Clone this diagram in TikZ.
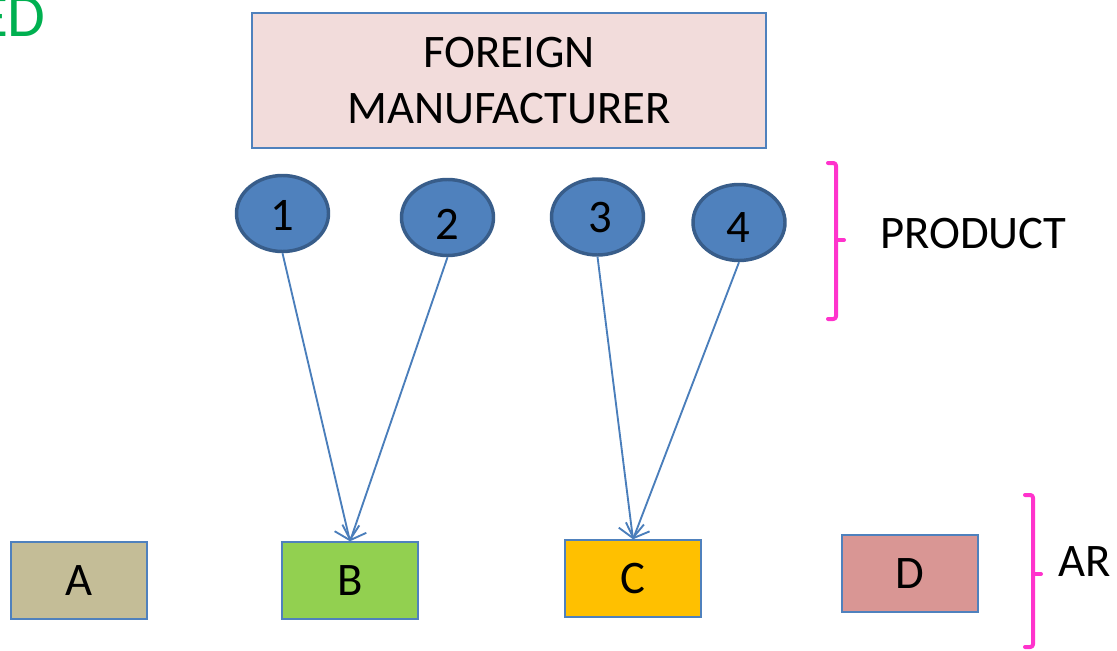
\documentclass[tikz,border=0pt]{standalone}
\usepackage{fontspec}
\setmainfont{Carlito}
\usetikzlibrary{shapes.geometric,arrows.meta}
\definecolor{boxblue}{HTML}{4F81BD}
\definecolor{ellborder}{HTML}{385D8A}
\definecolor{arrowblue}{HTML}{4A7EBB}
\definecolor{mfgfill}{HTML}{F2DCDB}
\definecolor{afill}{HTML}{C4BD97}
\definecolor{bfill}{HTML}{92D050}
\definecolor{cfill}{HTML}{FFC000}
\definecolor{dfill}{HTML}{D99694}
\definecolor{bracepink}{HTML}{FF33CC}
\definecolor{titlegreen}{HTML}{00B050}
\tikzset{
  bigtext/.style={font=\fontsize{35}{42}\selectfont},
  mfgbox/.style={draw=boxblue, line width=1.1pt, fill=mfgfill, minimum width=385.5pt, minimum height=101.25pt, inner sep=0pt, align=center, bigtext},
  areabox/.style={draw=boxblue, line width=1.1pt, minimum width=102pt, minimum height=57.75pt, inner sep=0pt, bigtext},
  prodell/.style={ellipse, draw=ellborder, line width=2.6pt, fill=boxblue, minimum width=69pt, minimum height=57pt, inner sep=0pt},
  numtext/.style={anchor=base, inner sep=0pt, bigtext},
  flow/.style={draw=arrowblue, line width=1.4pt, -{Straight Barb[length=9pt, width=19pt, line width=1.4pt]}},
  bracket/.style={draw=bracepink, line width=3pt, line cap=round, line join=round, rounded corners=2pt},
  sidelabel/.style={anchor=base west, inner sep=0pt, bigtext}
}
\begin{document}
\begin{tikzpicture}[x=0.75pt, y=-0.75pt]
\useasboundingbox (0,0) rectangle (1117,650);
\clip (0,0) rectangle (1117,650);
% title fragment
\node[anchor=base east, inner sep=0pt, text=titlegreen, font=\fontsize{46}{54}\selectfont] (title) at (46,36) {ED};
% manufacturer
\node[mfgbox] (mfg) at (509,80.5) {FOREIGN\\MANUFACTURER};
% products
\node[prodell] (e1) at (282.5,213.5) {};
\node[prodell] (e2) at (447.5,217.5) {};
\node[prodell] (e3) at (597.5,217) {};
\node[prodell] (e4) at (739,222.5) {};
\node[numtext] (t1) at (282,230) {1};
\node[numtext] (t2) at (447,239) {2};
\node[numtext] (t3) at (600,232) {3};
\node[numtext] (t4) at (738,242) {4};
% areas
\node[areabox, fill=afill] (A) at (79,580.5) {A};
\node[areabox, fill=bfill] (B) at (350,580.5) {B};
\node[areabox, fill=cfill] (C) at (633,578.5) {C};
\node[areabox, fill=dfill] (D) at (910,573.5) {D};
% connectors
\draw[flow] (e1.south) -- (B.north);
\draw[flow] (e2.south) -- (B.north);
\draw[flow] (e3.south) -- (C.north);
\draw[flow] (e4.south) -- (C.north);
% brackets
\draw[bracket] (828,163) -- (836,163) -- (836,319) -- (828,319);
\draw[bracket] (836,240) -- (844,240);
\node[sidelabel] (product) at (880,248) {PRODUCT};
\draw[bracket] (1025,495) -- (1033,495) -- (1033,647) -- (1025,647);
\draw[bracket] (1033,574) -- (1041,574);
\node[sidelabel] (area) at (1058,576) {AR};
\end{tikzpicture}
\end{document}
